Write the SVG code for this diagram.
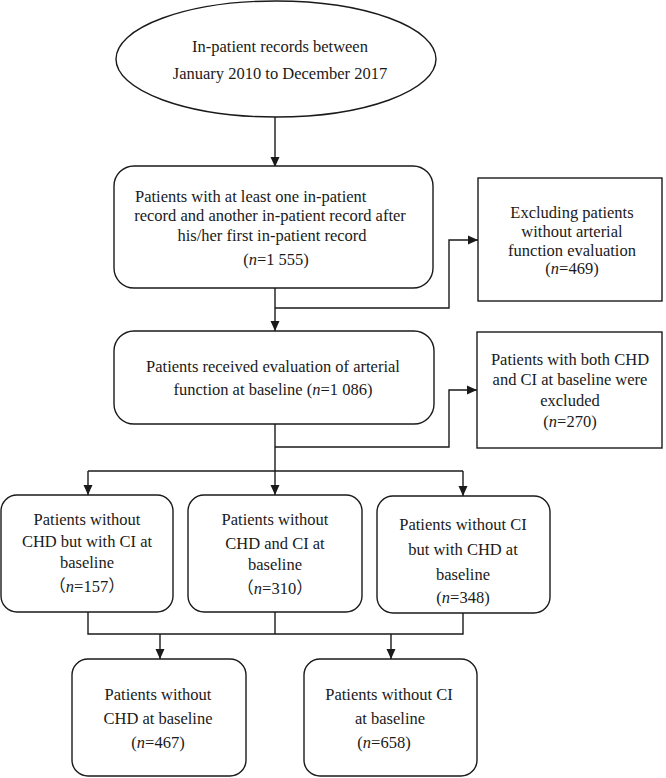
<svg xmlns="http://www.w3.org/2000/svg" width="666" height="778" viewBox="0 0 666 778">
<style>
.s{fill:#fff;stroke:#1a1a1a;stroke-width:1.4}
.c{fill:none;stroke:#1a1a1a;stroke-width:1.4}
text{font-family:"Liberation Serif","Noto Sans CJK SC",serif;font-size:16.5px;fill:#1a1a1a;text-anchor:middle}
.i{font-style:italic}
</style>
<defs>
<marker id="ah" markerUnits="userSpaceOnUse" markerWidth="10" markerHeight="10" refX="10" refY="5" orient="auto">
<path d="M0,0.5 L10,5 L0,9.5 z" fill="#1a1a1a"/>
</marker>
</defs>
<rect width="666" height="778" fill="#fff"/>
<g id="connectors">
<path class="c" d="M275,117 V167" marker-end="url(#ah)"/>
<path class="c" d="M275,288 V331" marker-end="url(#ah)"/>
<path class="c" d="M275,308 H449 V240 H478" marker-end="url(#ah)"/>
<path class="c" d="M275,424 V471"/>
<path class="c" d="M275,447 H449 V390 H477" marker-end="url(#ah)"/>
<path class="c" d="M88,471 H463"/>
<path class="c" d="M88,471 V495" marker-end="url(#ah)"/>
<path class="c" d="M275,471 V495" marker-end="url(#ah)"/>
<path class="c" d="M463,471 V496" marker-end="url(#ah)"/>
<path class="c" d="M88,612 V634 H463 V613"/>
<path class="c" d="M275,612 V634"/>
<path class="c" d="M160,634 V659" marker-end="url(#ah)"/>
<path class="c" d="M391,634 V659" marker-end="url(#ah)"/>
</g>
<g id="start">
<ellipse class="s" cx="276" cy="59" rx="160" ry="58"/>
<text x="280" y="52">In-patient records between</text>
<text x="280" y="79">January 2010 to December 2017</text>
</g>
<g id="records">
<rect class="s" x="114" y="166" width="319" height="122" rx="20"/>
<text x="135" y="202" style="text-anchor:start">Patients with at least one in-patient</text>
<text x="270" y="221">record and another in-patient record after</text>
<text x="272" y="241">his/her first in-patient record</text>
<text x="276" y="265">(<tspan class="i">n</tspan>=1 555)</text>
</g>
<g id="exclude1">
<rect class="s" x="478" y="178" width="184" height="123"/>
<text x="572" y="218">Excluding patients</text>
<text x="572" y="237">without arterial</text>
<text x="572" y="256">function evaluation</text>
<text x="572" y="274">(<tspan class="i">n</tspan>=469)</text>
</g>
<g id="evaluated">
<rect class="s" x="114" y="331" width="320" height="93" rx="20"/>
<text x="273" y="372">Patients received evaluation of arterial</text>
<text x="273" y="395">function at baseline (<tspan class="i">n</tspan>=1 086)</text>
</g>
<g id="exclude2">
<rect class="s" x="477" y="332" width="185" height="116"/>
<text x="570" y="365">Patients with both CHD</text>
<text x="570" y="385">and CI at baseline were</text>
<text x="570" y="406">excluded</text>
<text x="570" y="427">(<tspan class="i">n</tspan>=270)</text>
</g>
<g id="groupA">
<rect class="s" x="1" y="495" width="172" height="117" rx="16"/>
<text x="87" y="525">Patients without</text>
<text x="87" y="547">CHD but with CI at</text>
<text x="87" y="568">baseline</text>
<text x="87" y="592">（<tspan class="i">n</tspan>=157）</text>
</g>
<g id="groupB">
<rect class="s" x="188" y="495" width="174" height="117" rx="16"/>
<text x="275" y="525">Patients without</text>
<text x="275" y="549">CHD and CI at</text>
<text x="275" y="570">baseline</text>
<text x="275" y="594">（<tspan class="i">n</tspan>=310）</text>
</g>
<g id="groupC">
<rect class="s" x="377" y="496" width="173" height="117" rx="16"/>
<text x="463" y="530">Patients without CI</text>
<text x="463" y="555">but with CHD at</text>
<text x="463" y="580">baseline</text>
<text x="463" y="603">(<tspan class="i">n</tspan>=348)</text>
</g>
<g id="noCHD">
<rect class="s" x="72" y="659" width="174" height="117" rx="16"/>
<text x="158" y="700">Patients without</text>
<text x="158" y="724">CHD at baseline</text>
<text x="158" y="748">(<tspan class="i">n</tspan>=467)</text>
</g>
<g id="noCI">
<rect class="s" x="304" y="659" width="173" height="117" rx="16"/>
<text x="389" y="700">Patients without CI</text>
<text x="390" y="724">at baseline</text>
<text x="384" y="748">(<tspan class="i">n</tspan>=658)</text>
</g>
</svg>
